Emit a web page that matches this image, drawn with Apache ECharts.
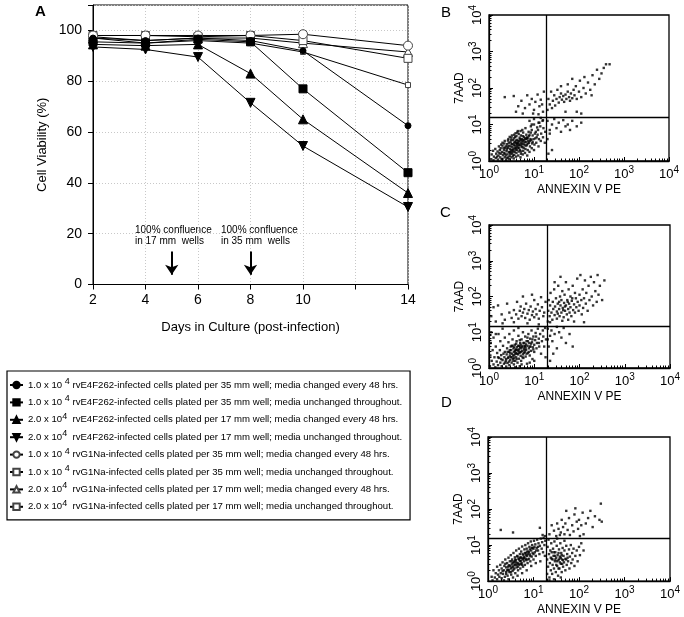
<!DOCTYPE html>
<html><head><meta charset="utf-8">
<script src="https://cdn.jsdelivr.net/npm/echarts/dist/echarts.min.js"></script>
<style>html,body{margin:0;padding:0;background:#fff}#c{width:684px;height:617px}</style>
</head><body><div id="c"></div><script>
// ---------- Panel A data ----------
const days = [2, 4, 6, 8, 10, 14];
const xTickLabels = [2, 4, 6, 8, 10, '', 14];
const e4_35_changed   = [97, 96, 97, 96, 92, 62.5];
const e4_35_unchanged = [95.5, 95, 96.5, 95.5, 77, 44];
const e4_17_changed   = [94.5, 94, 94.5, 83, 65, 36];
const e4_17_unchanged = [93.5, 92.5, 89.5, 71.5, 54.5, 30.5];
const g1_35_changed   = [98, 98, 98, 98, 98.5, 94];
const g1_35_unchanged = [98, 98, 97.5, 98, 96, 89];
const g1_17_changed   = [97.5, 96, 97, 97, 95, 91.5];
const g1_17_unchanged = [97, 95, 96, 95, 91.5, 78.5];
const seriesNames = [
 '1.0 x 10 ^4 rvE4F262-infected cells plated per 35 mm well; media changed every 48 hrs.',
 '1.0 x 10 ^4 rvE4F262-infected cells plated per 35 mm well; media unchanged throughout.',
 '2.0 x 10^4  rvE4F262-infected cells plated per 17 mm well; media changed every 48 hrs.',
 '2.0 x 10^4  rvE4F262-infected cells plated per 17 mm well; media unchanged throughout.',
 '1.0 x 10 ^4 rvG1Na-infected cells plated per 35 mm well; media changed every 48 hrs.',
 '1.0 x 10 ^4 rvG1Na-infected cells plated per 35 mm well; media unchanged throughout.',
 '2.0 x 10^4  rvG1Na-infected cells plated per 17 mm well; media changed every 48 hrs.',
 '2.0 x 10^4  rvG1Na-infected cells plated per 17 mm well; media unchanged throughout.'
];
const confluenceDays = [5, 8];
const confluenceText = ['100% confluence\nin 17 mm  wells', '100% confluence\nin 35 mm  wells'];

// ---------- Panels B-D data: [log10 Annexin V PE, log10 7AAD] per event ----------
const panelB = [
[0.05,0.05],[0.06,0.18],[0.1,0.02],[0.11,0.12],[0.09,0.28],[0.15,0.08],[0.16,0.2],[0.14,0.33],[0.2,0.04],[0.21,0.15],[0.19,0.26],[0.22,0.4],[0.25,0.1],[0.26,0.2],[0.24,0.3],[0.27,0.45],[0.28,0.05],[0.3,0.06],[0.31,0.16],[0.29,0.25],[0.32,0.35],[0.3,0.5],[0.35,0.1],[0.36,0.2],[0.34,0.3],[0.37,0.4],[0.35,0.55],[0.38,0.03],[0.4,0.08],[0.41,0.18],[0.39,0.27],[0.42,0.36],[0.4,0.46],[0.43,0.6],[0.45,0.05],[0.46,0.14],[0.44,0.24],[0.47,0.33],[0.45,0.42],[0.48,0.52],[0.46,0.66],[0.5,0.1],[0.51,0.2],[0.49,0.29],[0.52,0.38],[0.5,0.47],[0.53,0.57],[0.51,0.7],[0.55,0.07],[0.56,0.17],[0.54,0.26],[0.57,0.35],[0.55,0.44],[0.58,0.53],[0.56,0.62],[0.59,0.76],[0.6,0.12],[0.61,0.22],[0.59,0.31],[0.62,0.4],[0.6,0.49],[0.63,0.58],[0.61,0.68],[0.64,0.82],[0.65,0.15],[0.66,0.26],[0.64,0.36],[0.67,0.45],[0.65,0.54],[0.68,0.64],[0.66,0.74],[0.7,0.1],[0.71,0.2],[0.69,0.3],[0.72,0.4],[0.7,0.5],[0.73,0.6],[0.71,0.7],[0.74,0.85],[0.75,0.18],[0.76,0.28],[0.74,0.38],[0.77,0.47],[0.75,0.56],[0.78,0.66],[0.76,0.78],[0.8,0.22],[0.81,0.33],[0.79,0.43],[0.82,0.52],[0.8,0.62],[0.83,0.72],[0.81,0.9],[0.85,0.15],[0.86,0.3],[0.84,0.45],[0.87,0.55],[0.85,0.65],[0.88,0.8],[0.9,0.25],[0.91,0.4],[0.89,0.5],[0.92,0.6],[0.9,0.72],[0.93,0.95],[0.95,0.35],[0.96,0.48],[0.94,0.58],[0.97,0.7],[0.95,0.85],[1.0,0.3],[1.01,0.45],[0.99,0.6],[1.02,0.75],[1.0,1.0],[1.05,0.5],[1.06,0.65],[1.04,0.8],[1.07,0.92],[1.1,0.4],[1.11,0.6],[1.09,0.85],[1.12,1.05],[1.15,0.55],[1.16,0.75],[1.14,0.95],[1.2,0.65],[1.21,0.9],[1.19,1.1],[1.25,0.8],[1.24,0.5],
[0.48,0.4],[0.52,0.46],[0.56,0.5],[0.6,0.56],[0.64,0.5],[0.68,0.55],[0.72,0.58],[0.58,0.42],[0.62,0.45],[0.66,0.42],[0.54,0.32],[0.5,0.24],[0.44,0.5],[0.4,0.32],[0.36,0.36],[0.7,0.44],[0.74,0.52],[0.78,0.58],[0.82,0.6],[0.86,0.62],
[0.3,0.42],[0.33,0.22],[0.37,0.15],[0.41,0.4],[0.43,0.1],[0.47,0.2],[0.49,0.58],[0.53,0.14],[0.57,0.25],[0.58,0.66],[0.62,0.3],[0.63,0.48],[0.67,0.35],[0.69,0.6],[0.71,0.26],[0.73,0.46],[0.75,0.68],[0.77,0.36],[0.79,0.52],[0.83,0.42],[0.84,0.62],[0.87,0.48],[0.89,0.68],[0.91,0.55],[0.93,0.78],[0.97,0.52],[1.03,0.62],[1.08,0.72],[0.26,0.35],[0.23,0.22],[0.18,0.12],[0.34,0.48],[0.42,0.56],[0.5,0.64],[0.56,0.72],[0.63,0.78],[0.7,0.82],[0.46,0.25],[0.52,0.3],[0.6,0.36],
[0.35,1.75],[0.55,1.78],[0.65,1.5],[0.72,1.65],[0.8,1.45],[0.85,1.8],[0.9,1.55],[0.95,1.7],[1.0,1.4],[1.03,1.62],[1.08,1.82],[1.12,1.5],[1.15,1.68],[1.2,1.35],[1.22,1.9],[0.6,1.35],[0.75,1.3],[0.98,1.3],[1.1,1.28],[1.18,1.55],
[0.9,1.1],[1.0,1.15],[1.1,1.05],[1.15,1.18],[0.95,1.0],[1.2,1.12],
[1.3,1.4],[1.32,1.7],[1.35,1.55],[1.38,1.9],[1.4,1.45],[1.42,1.65],[1.45,1.8],[1.47,1.52],[1.5,1.7],[1.52,1.95],[1.55,1.6],[1.57,1.75],[1.6,1.85],[1.62,1.68],[1.65,1.78],[1.67,1.62],[1.7,1.82],[1.72,1.7],[1.75,1.9],[1.78,1.75],[1.8,1.65],[1.82,1.85],[1.85,1.72],[1.88,1.95],[1.9,1.8],[1.93,2.05],[1.95,1.7],[2.0,1.9],[2.02,2.2],[2.05,1.75],[2.1,2.0],[2.12,2.3],[2.15,1.85],[2.2,2.15],[2.25,1.95],[2.3,2.35],[2.35,2.1],[2.4,2.5],[2.45,2.25],[2.55,2.55],[2.6,2.65],[2.68,2.65],[2.5,2.4],[1.6,2.05],[1.75,2.1],[1.85,2.25],[2.28,1.8],[1.95,1.35],[2.05,1.3],[1.7,1.35],
[1.3,1.1],[1.35,0.85],[1.4,1.0],[1.45,1.15],[1.5,0.9],[1.55,1.05],[1.6,0.8],[1.65,1.12],[1.7,0.95],[1.75,1.0],[1.8,0.85],[1.85,1.1],[1.95,0.95],[2.05,1.05],[1.4,0.3],[1.3,0.6],[1.35,0.75],[1.32,0.2]
];
const panelC = [
[0.02,0.05],[0.03,0.35],[0.04,0.7],[0.05,1.0],[0.06,0.2],[0.08,0.5],[0.1,0.1],[0.1,0.85],[0.12,0.3],[0.14,0.02],[0.15,0.6],[0.17,0.18],[0.18,0.42],[0.2,0.08],[0.21,0.95],[0.22,0.28],[0.24,0.5],[0.25,0.15],[0.27,0.36],[0.28,0.05],[0.3,0.22],[0.31,0.62],[0.33,0.12],[0.34,0.3],[0.35,0.45],[0.37,0.2],[0.38,0.04],[0.39,0.38],[0.4,0.55],[0.41,0.14],[0.42,0.28],[0.43,0.72],[0.44,0.45],[0.45,0.08],[0.46,0.35],[0.47,0.22],[0.48,0.6],[0.49,0.5],[0.5,0.15],[0.5,0.3],[0.51,0.4],[0.52,0.8],[0.53,0.25],[0.54,0.55],[0.55,0.1],[0.55,0.45],[0.56,0.35],[0.57,0.65],[0.58,0.2],[0.59,0.5],[0.6,0.3],[0.6,0.42],[0.61,0.75],[0.62,0.58],[0.63,0.15],[0.64,0.38],[0.65,0.48],[0.65,0.9],[0.66,0.26],[0.67,0.62],[0.68,0.05],[0.68,0.44],[0.69,0.7],[0.7,0.34],[0.7,0.55],[0.71,0.2],[0.72,0.8],[0.73,0.48],[0.74,0.62],[0.75,0.38],[0.75,1.0],[0.76,0.28],[0.77,0.55],[0.78,0.7],[0.79,0.45],[0.8,0.88],[0.8,0.6],[0.81,0.32],[0.82,0.5],[0.83,0.75],[0.84,0.12],[0.85,0.62],[0.86,0.42],[0.87,0.95],[0.88,0.55],[0.89,0.7],[0.9,0.35],[0.91,0.82],[0.92,0.6],[0.93,0.48],[0.94,1.05],[0.95,0.72],[0.96,0.25],[0.97,0.58],[0.98,0.88],[1.0,0.65],[1.0,0.45],[1.02,0.78],[1.03,0.98],[1.05,0.55],[1.06,0.7],[1.08,1.1],[1.1,0.82],[1.11,0.6],[1.13,0.95],[1.15,0.4],[1.17,0.75],[1.19,1.05],[1.2,0.88],[1.22,0.6],[1.24,1.12],[1.25,0.3],[1.26,0.8],[0.35,0.85],[0.45,0.95],[0.55,1.05],[0.65,1.12],[0.25,0.75],[0.15,0.95],[0.3,1.1],[0.58,0.02],[0.72,0.1],[0.9,0.15],[1.0,0.2],[0.47,0.42],[0.53,0.35],[0.57,0.48],[0.62,0.4],[0.66,0.52],[0.73,0.58],[0.77,0.42],[0.82,0.66],[0.43,0.3],[0.38,0.25],[0.52,0.62],[0.6,0.68],[0.68,0.78],[0.85,0.85],
[0.32,0.4],[0.36,0.15],[0.41,0.45],[0.44,0.18],[0.48,0.3],[0.5,0.62],[0.54,0.2],[0.56,0.58],[0.58,0.4],[0.61,0.25],[0.63,0.5],[0.67,0.42],[0.69,0.58],[0.71,0.45],[0.74,0.3],[0.76,0.7],[0.79,0.62],[0.81,0.55],[0.83,0.4],[0.86,0.75],[0.88,0.45],[0.9,0.6],[0.93,0.68],[0.96,0.8],[0.98,0.52],[1.04,0.88],[1.1,0.7],[0.27,0.25],[0.2,0.3],[0.46,0.5],[0.55,0.28],[0.64,0.62],[0.7,0.65],[0.78,0.5],[0.6,0.52],
[0.05,1.45],[0.1,1.7],[0.15,1.3],[0.2,1.75],[0.28,1.5],[0.35,1.35],[0.4,1.8],[0.45,1.55],[0.5,1.4],[0.55,1.62],[0.6,1.5],[0.62,1.85],[0.65,1.38],[0.68,1.6],[0.7,1.72],[0.72,1.45],[0.75,1.55],[0.78,1.65],[0.8,1.4],[0.82,1.8],[0.85,1.52],[0.88,1.62],[0.9,1.35],[0.92,1.72],[0.95,1.48],[0.97,1.58],[1.0,1.9],[1.0,1.42],[1.03,1.65],[1.05,1.5],[1.08,1.78],[1.1,1.38],[1.12,1.6],[1.15,1.98],[1.17,1.7],[1.2,1.45],[1.22,1.55],[1.25,1.85],[0.3,1.25],[0.55,1.28],[0.85,1.25],[1.1,1.22],[0.75,2.0],[0.95,2.05],
[1.3,1.3],[1.31,1.6],[1.32,1.9],[1.34,1.45],[1.35,1.75],[1.36,2.1],[1.38,1.55],[1.4,1.35],[1.41,1.85],[1.42,1.65],[1.44,2.2],[1.45,1.48],[1.46,1.72],[1.48,1.95],[1.5,1.58],[1.5,1.38],[1.52,1.8],[1.53,2.3],[1.55,1.65],[1.56,1.45],[1.57,2.0],[1.58,1.75],[1.6,1.55],[1.6,1.9],[1.62,2.15],[1.63,1.68],[1.65,1.42],[1.66,1.82],[1.67,2.05],[1.68,1.6],[1.7,1.75],[1.7,2.4],[1.72,1.5],[1.73,1.9],[1.75,1.65],[1.76,2.2],[1.77,1.8],[1.78,1.55],[1.8,2.0],[1.8,1.7],[1.82,1.45],[1.83,1.88],[1.85,2.3],[1.86,1.62],[1.88,1.78],[1.9,2.1],[1.9,1.55],[1.92,1.95],[1.93,1.7],[1.95,2.5],[1.96,1.85],[1.98,1.6],[2.0,2.05],[2.0,1.75],[2.02,2.6],[2.04,1.9],[2.05,1.5],[2.07,2.2],[2.08,1.68],[2.1,1.95],[2.12,2.45],[2.14,1.8],[2.15,2.1],[2.18,1.6],[2.2,2.3],[2.22,1.9],[2.25,2.55],[2.27,2.0],[2.3,1.75],[2.32,2.4],[2.35,2.15],[2.38,1.85],[2.4,2.6],[2.42,2.05],[2.45,2.3],[2.5,1.9],[2.55,2.45],[1.45,2.4],[1.58,2.55],[1.62,1.32],[1.75,1.35],[1.88,1.3],[2.1,1.28],[1.35,1.28],[1.52,1.52],[1.68,1.72],[1.74,1.85],[1.84,1.95],[1.64,1.62],[1.55,1.85],
[1.3,1.1],[1.32,0.6],[1.35,0.9],[1.38,1.05],[1.4,0.75],[1.45,0.95],[1.5,0.55],[1.55,1.0],[1.6,0.85],[1.65,1.12],[1.7,0.7],[1.78,0.95],[1.85,0.6],[1.5,1.15],[1.42,0.4],[1.35,0.2],[1.3,0.8]
];
const panelD = [
[0.08,0.12],[0.1,0.02],[0.12,0.3],[0.15,0.1],[0.17,0.22],[0.2,0.05],[0.2,0.4],[0.22,0.18],[0.24,0.3],[0.25,0.12],[0.27,0.45],[0.28,0.22],[0.3,0.08],[0.3,0.35],[0.32,0.52],[0.33,0.2],[0.35,0.3],[0.36,0.42],[0.37,0.12],[0.38,0.6],[0.4,0.25],[0.4,0.38],[0.42,0.5],[0.43,0.15],[0.44,0.32],[0.45,0.65],[0.46,0.44],[0.47,0.25],[0.48,0.55],[0.5,0.35],[0.5,0.72],[0.51,0.18],[0.52,0.46],[0.53,0.6],[0.54,0.28],[0.55,0.4],[0.56,0.78],[0.57,0.52],[0.58,0.35],[0.59,0.66],[0.6,0.22],[0.6,0.46],[0.61,0.58],[0.62,0.85],[0.63,0.38],[0.64,0.7],[0.65,0.5],[0.66,0.3],[0.67,0.62],[0.68,0.9],[0.69,0.45],[0.7,0.75],[0.7,0.56],[0.71,0.35],[0.72,0.66],[0.73,0.82],[0.74,0.5],[0.75,0.96],[0.76,0.6],[0.77,0.4],[0.78,0.72],[0.79,0.55],[0.8,0.88],[0.8,0.66],[0.81,0.45],[0.82,1.0],[0.83,0.78],[0.84,0.58],[0.85,0.9],[0.86,0.7],[0.87,0.5],[0.88,1.05],[0.89,0.82],[0.9,0.62],[0.91,0.95],[0.92,0.74],[0.93,0.55],[0.94,1.1],[0.95,0.85],[0.96,0.68],[0.97,1.0],[0.98,0.78],[1.0,0.9],[1.0,0.6],[1.01,1.12],[1.03,0.8],[1.04,1.02],[1.05,0.7],[1.07,0.92],[1.08,1.15],[1.1,0.85],[1.11,1.05],[1.13,0.75],[1.14,0.98],[1.16,1.18],[1.18,0.9],[1.19,1.08],[1.21,0.8],[1.22,1.2],[1.24,1.0],[1.25,0.7],[1.26,1.12],[0.55,0.1],[0.65,0.15],[0.75,0.22],[0.85,0.3],[0.95,0.42],[0.45,0.05],[0.35,0.02],[1.05,0.5],[1.15,0.55],[0.62,0.52],[0.68,0.6],[0.74,0.64],[0.78,0.62],[0.84,0.72],[0.58,0.44],[0.52,0.38],[0.88,0.75],[0.92,0.88],[0.98,0.92],[0.72,0.48],[0.66,0.4],[0.46,0.3],[0.4,0.2],
[0.32,0.28],[0.38,0.48],[0.42,0.3],[0.48,0.42],[0.5,0.25],[0.54,0.5],[0.56,0.32],[0.6,0.6],[0.63,0.45],[0.65,0.68],[0.67,0.48],[0.7,0.65],[0.72,0.56],[0.75,0.45],[0.76,0.75],[0.79,0.65],[0.81,0.78],[0.83,0.62],[0.86,0.82],[0.87,0.6],[0.9,0.8],[0.93,0.7],[0.96,0.92],[1.0,0.75],[1.02,0.95],[1.06,0.85],[1.1,0.95],[0.58,0.55],[0.52,0.55],[0.44,0.4],
[1.3,0.2],[1.3,0.6],[1.31,0.95],[1.32,0.4],[1.33,1.15],[1.34,0.75],[1.35,0.1],[1.36,0.5],[1.37,0.85],[1.38,0.3],[1.39,1.05],[1.4,0.62],[1.41,0.2],[1.42,0.45],[1.43,0.9],[1.44,0.7],[1.45,0.35],[1.46,1.1],[1.47,0.55],[1.48,0.8],[1.49,0.25],[1.5,0.65],[1.51,0.98],[1.52,0.42],[1.53,0.72],[1.54,0.15],[1.55,0.58],[1.56,0.88],[1.57,0.35],[1.58,0.68],[1.59,1.05],[1.6,0.48],[1.61,0.78],[1.62,0.25],[1.63,0.6],[1.64,0.92],[1.65,0.4],[1.66,0.7],[1.67,0.52],[1.68,0.85],[1.7,0.3],[1.7,0.62],[1.72,0.98],[1.73,0.45],[1.74,0.75],[1.76,0.55],[1.78,0.88],[1.79,0.35],[1.8,0.68],[1.82,1.0],[1.83,0.5],[1.85,0.78],[1.86,0.6],[1.88,0.9],[1.9,0.42],[1.92,0.7],[1.95,0.85],[1.97,0.55],[2.0,0.95],[2.02,0.72],[2.05,1.05],[2.1,0.85],[1.35,0.02],[1.45,0.05],[1.6,0.1],[1.52,1.18],[1.68,1.12],[1.4,0.8],[1.55,0.78],[1.62,0.72],[1.48,0.6],[1.58,0.52],[1.75,0.65],
[1.42,0.6],[1.47,0.7],[1.52,0.55],[1.57,0.62],[1.6,0.65],[1.65,0.58],[1.5,0.45],[1.55,0.35],[1.63,0.48],[1.72,0.6],[1.38,0.65],[1.45,0.8],
[1.35,1.3],[1.4,1.55],[1.45,1.4],[1.5,1.25],[1.52,1.6],[1.55,1.45],[1.6,1.35],[1.62,1.7],[1.65,1.5],[1.68,1.3],[1.7,1.6],[1.75,1.42],[1.78,1.75],[1.8,1.28],[1.85,1.55],[1.88,1.38],[1.9,1.85],[1.95,1.65],[1.98,1.45],[2.0,1.7],[2.05,1.55],[2.08,1.9],[2.1,1.3],[2.15,1.6],[2.2,1.75],[2.25,1.95],[2.3,1.5],[2.35,1.8],[2.45,1.7],[2.5,1.65],[2.48,2.15],[1.92,2.02],[1.72,1.95],[2.02,1.25],[1.58,1.28],
[0.28,1.42],[0.55,1.35],[1.14,1.48],[1.2,1.28],[1.25,1.25]
];
const gateAnnexin = [18.6, 19, 19];
const gate7AAD = [15.8, 14.8, 15.8];
const panelLetters = ['B', 'C', 'D'];

// ---------- chart ----------
const FONT = 'Liberation Sans, Arial, Helvetica, sans-serif';
const chart = echarts.init(document.getElementById('c'), null, {renderer: 'canvas'});
const toPairs = arr => days.map((d, i) => [d, arr[i]]);
const lineSeriesData = [e4_35_changed, e4_35_unchanged, e4_17_changed, e4_17_unchanged,
  g1_35_changed, g1_35_unchanged, g1_17_changed, g1_17_unchanged];
const markerStyles = [
  {symbol: 'circle', size: 6, fill: '#000', stroke: '#000'},
  {symbol: 'rect', size: 8, fill: '#000', stroke: '#000'},
  {symbol: 'triangle', size: 9, fill: '#000', stroke: '#000'},
  {symbol: 'path://M0,0 L10,0 L5,9 Z', size: 9, fill: '#000', stroke: '#000'},
  {symbol: 'circle', size: 9, fill: '#fff', stroke: '#444'},
  {symbol: 'rect', size: 8, fill: '#fff', stroke: '#444'},
  {symbol: 'triangle', size: 9, fill: '#fff', stroke: '#444'},
  {symbol: 'rect', size: 5, fill: '#fff', stroke: '#444'}
];

const series = lineSeriesData.map((arr, i) => ({
  type: 'line', name: seriesNames[i], xAxisIndex: 0, yAxisIndex: 0,
  data: toPairs(arr), symbol: markerStyles[i].symbol, symbolSize: markerStyles[i].size,
  showSymbol: true, z: 10 - i,
  lineStyle: {color: '#000', width: 1},
  itemStyle: {color: markerStyles[i].fill, borderColor: markerStyles[i].stroke, borderWidth: 1},
  emphasis: {disabled: true}
}));
// confluence arrows
series[3].markLine = {
  silent: true, symbol: ['none', 'arrow'], symbolSize: 10,
  lineStyle: {color: '#000', width: 2, type: 'solid'}, label: {show: false},
  emphasis: {disabled: true},
  data: confluenceDays.map(d => [{coord: [d, 13]}, {coord: [d, 3.8]}])
};

const supRich = {sup: {fontSize: 10, verticalAlign: 'top', fontFamily: FONT, color: '#000'}};
const grids = [
  {left: 93, top: 5, width: 315, height: 279.5, show: true, borderColor: '#000', borderWidth: 1},
  {left: 489, top: 15, width: 180, height: 146, show: true, borderColor: '#000', borderWidth: 1.3},
  {left: 489, top: 225, width: 181, height: 143, show: true, borderColor: '#000', borderWidth: 1.3},
  {left: 488, top: 437, width: 182, height: 145, show: true, borderColor: '#000', borderWidth: 1.3}
];
const xAxes = [{
  gridIndex: 0, type: 'value', min: 2, max: 14, interval: 2,
  axisLine: {lineStyle: {color: '#000', width: 1}},
  axisTick: {length: 5, lineStyle: {color: '#000'}},
  axisLabel: {color: '#000', fontSize: 14, margin: 9, fontFamily: FONT,
    formatter: v => { const k = (v - 2) / 2; return xTickLabels[k] === undefined ? '' : String(xTickLabels[k]); }},
  splitLine: {show: true, lineStyle: {color: '#c8c8c8', type: [1, 2]}},
  name: 'Days in Culture (post-infection)', nameLocation: 'middle', nameGap: 36,
  nameTextStyle: {fontSize: 13, color: '#000', fontFamily: FONT}
}];
const yAxes = [{
  gridIndex: 0, type: 'value', min: 0, max: 110, interval: 20,
  axisLine: {show: true, lineStyle: {color: '#000', width: 1}},
  axisTick: {show: true, length: 5, lineStyle: {color: '#000'}},
  axisLabel: {color: '#000', fontSize: 14, margin: 11, fontFamily: FONT, formatter: v => v > 100 ? '' : String(v)},
  splitLine: {show: true, lineStyle: {color: '#c8c8c8', type: [1, 2]}},
  name: 'Cell Viability (%)', nameLocation: 'middle', nameGap: 44,
  nameTextStyle: {fontSize: 13, color: '#000', fontFamily: FONT}
}];
const panels = [panelB, panelC, panelD];
const logLabel = v => '10{sup|' + Math.round(Math.log10(v)) + '}';
panels.forEach((pts, k) => {
  const g = k + 1;
  xAxes.push({
    gridIndex: g, type: 'log', logBase: 10, min: 1, max: 10000, splitNumber: 4,
    axisLine: {lineStyle: {color: '#000', width: 1.3}},
    axisTick: {inside: true, length: 4, lineStyle: {color: '#000'}},
    minorTick: {show: true, splitNumber: 9, length: 2.5, lineStyle: {color: '#000'}},
    axisLabel: {color: '#000', fontSize: 13, margin: 4, fontFamily: FONT, formatter: logLabel, rich: supRich, lineHeight: 18},
    splitLine: {show: false},
    name: 'ANNEXIN V PE', nameLocation: 'middle', nameGap: 19,
    nameTextStyle: {fontSize: 12, color: '#000', fontFamily: FONT}
  });
  yAxes.push({
    gridIndex: g, type: 'log', logBase: 10, min: 1, max: 10000, splitNumber: 4,
    axisLine: {lineStyle: {color: '#000', width: 1.3}},
    axisTick: {inside: true, length: 4, lineStyle: {color: '#000'}},
    minorTick: {show: true, splitNumber: 9, length: 2.5, lineStyle: {color: '#000'}},
    axisLabel: {color: '#000', fontSize: 13, margin: 3, rotate: 90, fontFamily: FONT, formatter: logLabel, rich: supRich, lineHeight: 18},
    splitLine: {show: false},
    name: '7AAD', nameLocation: 'middle', nameGap: 23,
    nameTextStyle: {fontSize: 12, color: '#000', fontFamily: FONT}
  });
  series.push({
    type: 'scatter', xAxisIndex: g, yAxisIndex: g, silent: true,
    symbol: 'rect', symbolSize: 2.4, itemStyle: {color: '#000'},
    data: pts.map(p => [Math.pow(10, p[0]), Math.pow(10, p[1])]),
    markLine: {
      silent: true, symbol: 'none', label: {show: false},
      lineStyle: {color: '#000', width: 1.3, type: 'solid'},
      data: [{xAxis: gateAnnexin[k]}, {yAxis: gate7AAD[k]}]
    }
  });
});

chart.setOption({
  animation: false,
  textStyle: {fontFamily: FONT},
  grid: grids, xAxis: xAxes, yAxis: yAxes, series: series,
  legend: {
    left: 7, top: 371, orient: 'vertical', itemWidth: 13, itemHeight: 8, itemGap: 1.4,
    padding: [6, 8, 5, 2], borderColor: '#000', borderWidth: 1.2, selectedMode: false,
    data: seriesNames,
    formatter: n => n.replace('^4', '{sup|4}'),
    textStyle: {fontSize: 9.6, lineHeight: 16, color: '#000', fontFamily: FONT,
      rich: {sup: {fontSize: 9, verticalAlign: 'top', fontFamily: FONT, color: '#000'}}}
  },
  graphic: [
    {type: 'text', left: 35, top: 4, style: {text: 'A', font: 'bold 15px ' + FONT, fill: '#000'}},
    {type: 'text', left: 441, top: 5, style: {text: panelLetters[0], font: '15px ' + FONT, fill: '#000'}},
    {type: 'text', left: 440, top: 205, style: {text: panelLetters[1], font: '15px ' + FONT, fill: '#000'}},
    {type: 'text', left: 441, top: 395, style: {text: panelLetters[2], font: '15px ' + FONT, fill: '#000'}},
    {type: 'text', left: 135, top: 225, style: {text: confluenceText[0], font: '10px ' + FONT, lineHeight: 11, fill: '#000'}},
    {type: 'text', left: 221, top: 225, style: {text: confluenceText[1], font: '10px ' + FONT, lineHeight: 11, fill: '#000'}}
  ]
});
</script></body></html>
